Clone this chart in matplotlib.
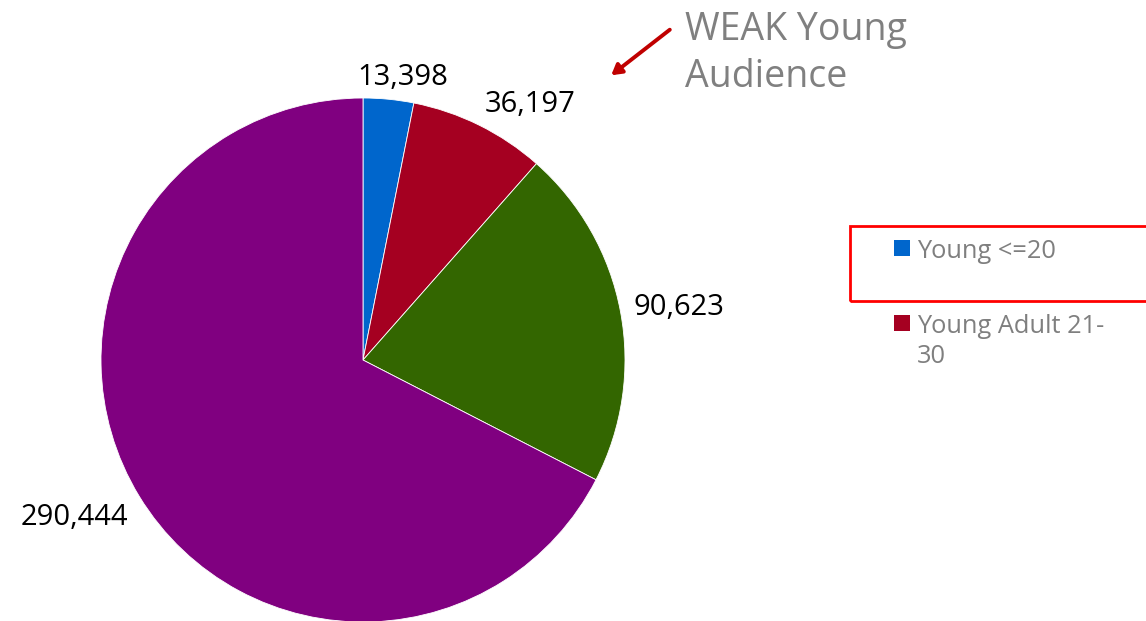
import numpy as np
import matplotlib
matplotlib.use("Agg")
import matplotlib.pyplot as plt
from matplotlib.patches import Rectangle, FancyArrowPatch

plt.rcParams['font.family'] = ['Open Sans', 'DejaVu Sans']

# Audience by age group
categories = ["Young <=20", "Young Adult 21-30", "Adult 31-50", "Mature 51+"]
values = [13398, 36197, 90623, 290444]
colors = ["#0066CC", "#A50021", "#336600", "#800080"]
legend_lines = [["Young <=20"], ["Young Adult 21-", "30"]]
callout_lines = ["WEAK Young", "Audience"]

W, H = 1146, 621
fig = plt.figure(figsize=(W / 100, H / 100), dpi=100)


def fy(y):
    """Pixel row measured from the top -> figure fraction."""
    return 1 - y / H


# square axes holding the unit-radius pie
cx, cy, R = 363, 360, 262
ax = fig.add_axes([(cx - R) / W, (H - cy - R) / H, 2 * R / W, 2 * R / H])
wedges, _ = ax.pie(values, colors=colors, startangle=90, counterclock=False,
                   radius=1.0, wedgeprops=dict(edgecolor="white", linewidth=0.6))
ax.set_xlim(-1, 1)
ax.set_ylim(-1, 1)
ax.set_aspect("equal")
ax.axis("off")

# outside-end value labels
fig.canvas.draw()
renderer = fig.canvas.get_renderer()
total = float(sum(values))
start = 0.0
for v in values:
    span = v / total * 360.0
    mid = np.radians(start + span / 2)
    start += span
    s, c = np.sin(mid), np.cos(mid)
    t = ax.text(0, 0, f"{v:,}", fontsize=21, color="black",
                ha="center", va="center")
    bb = t.get_window_extent(renderer)
    w, h = bb.width / R, 0.8 * bb.height / R
    r = 1.05
    px, py = r * s, r * c
    u = -np.clip(3 * s, -1, 1) * w / 2
    q = -np.clip(2 * c, -1, 1) * h / 2
    t.set_position((px - u, py - q - 3.0 / R))

# callout text with arrow
for i, line in enumerate(callout_lines):
    fig.text(685 / W, fy(40 + 47 * i), line, fontsize=27, color="#808080",
             ha="left", va="baseline")
arrow = FancyArrowPatch((672 / W, fy(28)), (609 / W, fy(77)),
                        transform=fig.transFigure,
                        arrowstyle="-|>,head_length=6,head_width=3.5",
                        color="#C00000", linewidth=2.8, mutation_scale=1)
fig.add_artist(arrow)

# legend entries
entry_base = [258, 333]
for i, lines in enumerate(legend_lines):
    b = entry_base[i]
    fig.add_artist(Rectangle((894 / W, fy(b - 2)), 16 / W, 16 / H,
                             transform=fig.transFigure, facecolor=colors[i],
                             edgecolor="none"))
    for j, line in enumerate(lines):
        fig.text(917 / W, fy(b + 30 * j), line, fontsize=18.3, color="#7F7F7F",
                 ha="left", va="baseline")

# highlight box around the first legend entry
fig.add_artist(Rectangle((850 / W, fy(301)), 300 / W, 75 / H,
                         transform=fig.transFigure, facecolor="none",
                         edgecolor="#FF0000", linewidth=2))

fig.savefig("out.png", dpi=100)
